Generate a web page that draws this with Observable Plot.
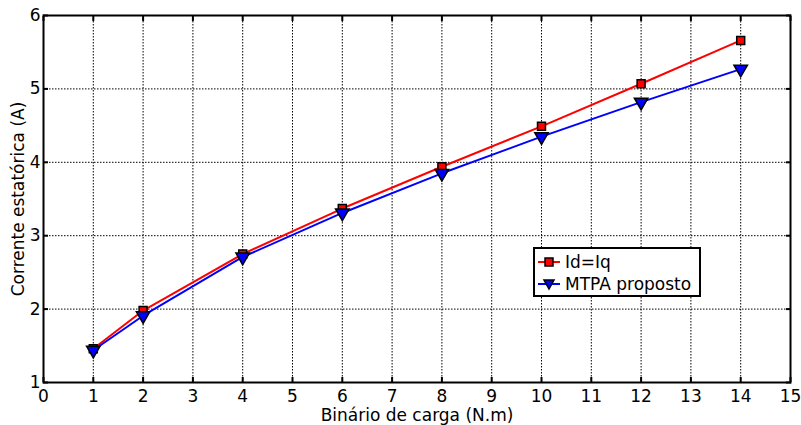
<!DOCTYPE html>
<html>
<head>
<meta charset="utf-8">
<script src="https://cdn.jsdelivr.net/npm/d3@7"></script>
<script src="https://cdn.jsdelivr.net/npm/@observablehq/plot@0.6"></script>
<style>
  html, body { margin: 0; padding: 0; background: #fff; }
  #wrap { position: relative; width: 801px; height: 425px; font-family: "DejaVu Sans", sans-serif; }
  #legend { position: absolute; left: 533px; top: 247px; width: 168px; height: 50px; border: 2px solid #000; background: #fff; box-sizing: border-box; font-size: 17px; }
  #legend .row { position: absolute; left: 2px; height: 22px; display: flex; align-items: center; white-space: nowrap; }
  #legend svg { margin-right: 4px; }
</style>
</head>
<body>
<div id="wrap"></div>
<script>
// Load torque (N.m)
const torque = [1, 2, 4, 6, 8, 10, 12, 14];
// Stator current (A) for each control strategy
const idEqualsIq = [1.46, 1.98, 2.75, 3.37, 3.94, 4.49, 5.07, 5.66];
const mtpaProposto = [1.44, 1.91, 2.71, 3.31, 3.85, 4.35, 4.82, 5.27];
const seriesNames = ["Id=Iq", "MTPA proposto"];
const xTicks = d3.range(0, 16);
const yTicks = [1, 2, 3, 4, 5, 6];

const rows = [
  ...torque.map((t, i) => ({x: t, y: idEqualsIq[i], s: seriesNames[0]})),
  ...torque.map((t, i) => ({x: t, y: mtpaProposto[i], s: seriesNames[1]}))
];
const red = rows.filter(d => d.s === seriesNames[0]);
const blue = rows.filter(d => d.s === seriesNames[1]);

const chart = Plot.plot({
  width: 801,
  height: 425,
  marginLeft: 43,
  marginRight: 11,
  marginTop: 15,
  marginBottom: 43,
  style: {fontFamily: "'DejaVu Sans', sans-serif", fontSize: "17px", color: "#000", background: "#fff"},
  x: {domain: [0, 15]},
  y: {domain: [1, 6]},
  marks: [
    Plot.gridX(xTicks.slice(1, -1), {stroke: "#000", strokeOpacity: 1, strokeWidth: 1, strokeDasharray: "1.5,1.5"}),
    Plot.gridY(yTicks.slice(1, -1), {stroke: "#000", strokeOpacity: 1, strokeWidth: 1, strokeDasharray: "1.5,1.5"}),
    Plot.axisX(xTicks, {anchor: "bottom", tickSize: -5, tickPadding: 12, tickFormat: "d", strokeWidth: 2, label: "Binário de carga (N.m)", labelAnchor: "center", labelArrow: "none", labelOffset: 38, fontSize: 17}),
    Plot.axisX(xTicks, {anchor: "top", tickSize: -5, strokeWidth: 2, label: null, text: null}),
    Plot.axisY(yTicks, {anchor: "left", tickSize: -5, tickPadding: 8, tickFormat: "d", strokeWidth: 2, label: "Corrente estatórica (A)", labelAnchor: "center", labelArrow: "none", labelOffset: 32, fontSize: 17}),
    Plot.axisY(yTicks, {anchor: "right", tickSize: -5, strokeWidth: 2, label: null, text: null}),
    Plot.frame({stroke: "#000", strokeWidth: 2}),
    Plot.line(red, {x: "x", y: "y", stroke: "#ff0000", strokeWidth: 2}),
    Plot.line(blue, {x: "x", y: "y", stroke: "#0000ff", strokeWidth: 2}),
    Plot.dot(red, {x: "x", y: "y", symbol: "square", r: 4.5, fill: "#ff0000", stroke: "#000", strokeWidth: 1.5}),
    Plot.dot(blue, {x: "x", y: "y", symbol: "triangle", r: 5, rotate: 180, fill: "#0000ff", stroke: "#000", strokeWidth: 1.5})
  ]
});

const wrap = document.getElementById("wrap");
wrap.appendChild(chart);

// Legend box
const legend = document.createElement("div");
legend.id = "legend";
legend.innerHTML = `
  <div class="row" style="top:2px">
    <svg width="24" height="14"><line x1="1" y1="7" x2="23" y2="7" stroke="#ff0000" stroke-width="2"/><rect x="8" y="3" width="8" height="8" fill="#ff0000" stroke="#000" stroke-width="1.5"/></svg>${seriesNames[0]}
  </div>
  <div class="row" style="top:24px">
    <svg width="24" height="14"><line x1="1" y1="7" x2="23" y2="7" stroke="#0000ff" stroke-width="2"/><path d="M7,3 L17,3 L12,12 Z" fill="#0000ff" stroke="#000" stroke-width="1.5"/></svg>${seriesNames[1]}
  </div>`;
wrap.appendChild(legend);
</script>
</body>
</html>
